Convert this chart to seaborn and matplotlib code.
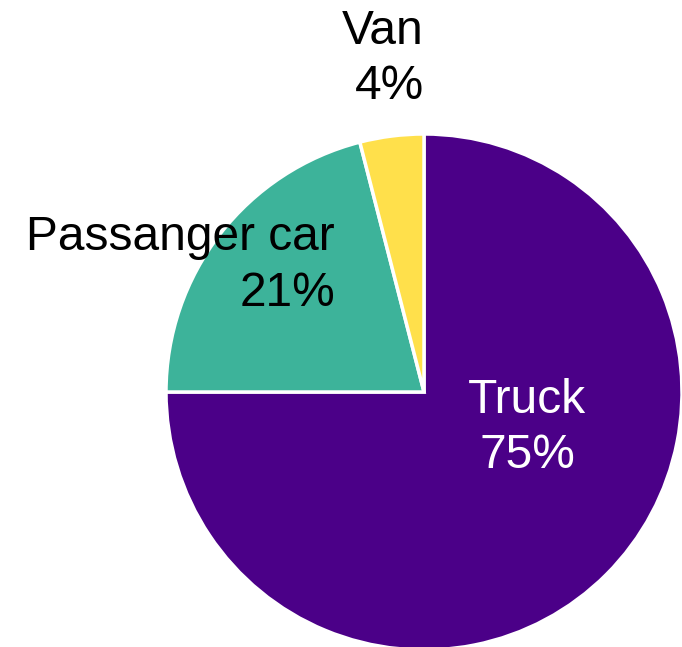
import matplotlib
matplotlib.use("Agg")
import matplotlib.pyplot as plt
import seaborn as sns

sns.set_style("white")
plt.rcParams['font.family'] = ['Liberation Sans', 'DejaVu Sans']

categories = ["Truck", "Passanger car", "Van"]
shares = [75, 21, 4]
colors = ["#4B0088", "#3DB39A", "#FFE04B"]

fig = plt.figure(figsize=(6.82, 6.47), dpi=100)
# square axes holding the unit pie
ax = fig.add_axes([166 / 682, (647 - 392 - 258) / 647, 516 / 682, 516 / 647])
ax.pie(shares, colors=colors, startangle=90, counterclock=False, radius=1,
       wedgeprops=dict(edgecolor="white", linewidth=2.5))
ax.set_xlim(-1, 1)
ax.set_ylim(-1, 1)
ax.set_aspect("equal")
ax.axis("off")

fs = 34.5
ls = 1.3
labels = [f"{c}\n{v}%" for c, v in zip(categories, shares)]
ax.text(0.40, -0.14, labels[0], color="white", fontsize=fs, ha="center",
        va="center", ma="center", linespacing=ls)
ax.text(-0.345, 0.49, labels[1], color="black", fontsize=fs, ha="right",
        va="center", ma="right", linespacing=ls, clip_on=False)
ax.text(0.0, 1.29, labels[2], color="black", fontsize=fs, ha="right",
        va="center", ma="right", linespacing=ls, clip_on=False)

fig.savefig("out.png", dpi=100)
